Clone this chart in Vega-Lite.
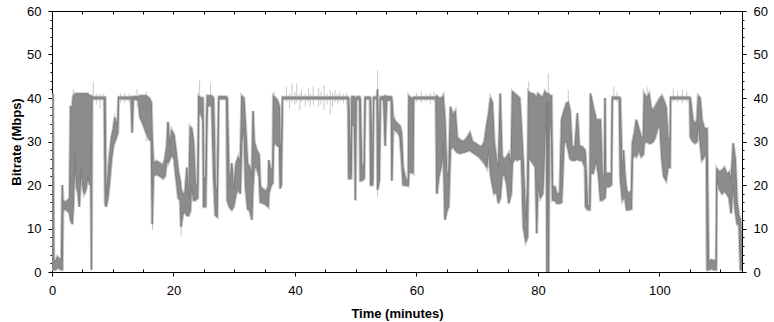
{
  "$schema": "https://vega.github.io/schema/vega-lite/v6.json",
  "width": 690,
  "height": 261,
  "autosize": {"type": "none"},
  "padding": {"left": 52, "top": 11, "right": 32, "bottom": 50},
  "background": "white",
  "config": {
    "view": {"stroke": null},
    "axis": {
      "labelFont": "Liberation Sans",
      "titleFont": "Liberation Sans",
      "labelFontSize": 13,
      "titleFontSize": 13,
      "titleFontWeight": "bold",
      "domainColor": "black",
      "tickColor": "black",
      "labelColor": "black",
      "titleColor": "black",
      "grid": false,
      "labelFlush": false,
      "labelOverlap": false
    }
  },
  "datasets": {
    "main": [
      {"t":0,"lo":1,"hi":3},
      {"t":0.15,"lo":1,"hi":41},
      {"t":0.3,"lo":0.5,"hi":3},
      {"t":0.6,"lo":0.5,"hi":2.5},
      {"t":0.9,"lo":1,"hi":3.5},
      {"t":1.2,"lo":0.8,"hi":3},
      {"t":1.55,"lo":0.5,"hi":3},
      {"t":1.7,"lo":0.5,"hi":20},
      {"t":1.8,"lo":14,"hi":16.5},
      {"t":2.2,"lo":14.5,"hi":16},
      {"t":2.6,"lo":14,"hi":16.5},
      {"t":2.9,"lo":13.5,"hi":17},
      {"t":3.05,"lo":12,"hi":38},
      {"t":3.35,"lo":11,"hi":38},
      {"t":3.5,"lo":15,"hi":40.5},
      {"t":3.8,"lo":27,"hi":41},
      {"t":4.0,"lo":20,"hi":41},
      {"t":4.3,"lo":18,"hi":41},
      {"t":4.5,"lo":15,"hi":41},
      {"t":4.8,"lo":24,"hi":41},
      {"t":5.0,"lo":20,"hi":41},
      {"t":5.3,"lo":18,"hi":41},
      {"t":5.6,"lo":19,"hi":41},
      {"t":5.9,"lo":22,"hi":41},
      {"t":6.2,"lo":20,"hi":40.5},
      {"t":6.35,"lo":30,"hi":40.5},
      {"t":6.5,"lo":0.5,"hi":40.5},
      {"t":6.6,"lo":39.8,"hi":40.2},
      {"t":8.6,"lo":39.8,"hi":40.2},
      {"t":8.75,"lo":15.8,"hi":40.2},
      {"t":8.9,"lo":15,"hi":17.5},
      {"t":9.2,"lo":17,"hi":22},
      {"t":9.5,"lo":21,"hi":27},
      {"t":9.8,"lo":26,"hi":31},
      {"t":10.1,"lo":29,"hi":33},
      {"t":10.35,"lo":30,"hi":35.5},
      {"t":10.6,"lo":31,"hi":34},
      {"t":10.85,"lo":32,"hi":35},
      {"t":10.95,"lo":39.8,"hi":40.2},
      {"t":13.0,"lo":39.8,"hi":40.2},
      {"t":13.2,"lo":32,"hi":40.3},
      {"t":13.4,"lo":39.8,"hi":40.3},
      {"t":14.2,"lo":39.5,"hi":40.3},
      {"t":14.5,"lo":35.5,"hi":40.5},
      {"t":15.0,"lo":34,"hi":40.5},
      {"t":15.5,"lo":32,"hi":40.5},
      {"t":16.0,"lo":30.5,"hi":40},
      {"t":16.35,"lo":30,"hi":39},
      {"t":16.5,"lo":11,"hi":31},
      {"t":16.7,"lo":22,"hi":25},
      {"t":17.2,"lo":22.5,"hi":25.5},
      {"t":17.8,"lo":22,"hi":25},
      {"t":18.3,"lo":21.5,"hi":24.5},
      {"t":18.6,"lo":22,"hi":26},
      {"t":18.9,"lo":25.7,"hi":29},
      {"t":19.1,"lo":25,"hi":34.5},
      {"t":19.4,"lo":26,"hi":29},
      {"t":19.7,"lo":27,"hi":32.6},
      {"t":20.1,"lo":26,"hi":31.5},
      {"t":20.4,"lo":22,"hi":28},
      {"t":20.8,"lo":17,"hi":23},
      {"t":21.1,"lo":16.5,"hi":21},
      {"t":21.25,"lo":10.4,"hi":19},
      {"t":21.5,"lo":13,"hi":18},
      {"t":21.9,"lo":14,"hi":18},
      {"t":22.2,"lo":13,"hi":24},
      {"t":22.5,"lo":13,"hi":17},
      {"t":22.75,"lo":14,"hi":33.4},
      {"t":23.0,"lo":20,"hi":33},
      {"t":23.3,"lo":16.5,"hi":30},
      {"t":23.6,"lo":16.5,"hi":20.4},
      {"t":24.0,"lo":17,"hi":20},
      {"t":24.15,"lo":36,"hi":40.5},
      {"t":24.5,"lo":36.5,"hi":40},
      {"t":24.85,"lo":35,"hi":40},
      {"t":24.95,"lo":15,"hi":22},
      {"t":25.3,"lo":15,"hi":21},
      {"t":25.55,"lo":38,"hi":40.5},
      {"t":26.3,"lo":38.5,"hi":40.5},
      {"t":26.6,"lo":22,"hi":40},
      {"t":26.9,"lo":13,"hi":20},
      {"t":27.2,"lo":12.7,"hi":18},
      {"t":27.45,"lo":39.8,"hi":40.3},
      {"t":28.75,"lo":39.8,"hi":40.3},
      {"t":28.85,"lo":16.5,"hi":40},
      {"t":29.2,"lo":15,"hi":19.6},
      {"t":29.6,"lo":14.3,"hi":25},
      {"t":29.9,"lo":15,"hi":19},
      {"t":30.3,"lo":18,"hi":25},
      {"t":30.7,"lo":19,"hi":26.5},
      {"t":31.0,"lo":18,"hi":25},
      {"t":31.25,"lo":30,"hi":40.5},
      {"t":31.6,"lo":33,"hi":40},
      {"t":31.85,"lo":20,"hi":34},
      {"t":32.2,"lo":14.5,"hi":25},
      {"t":32.6,"lo":14,"hi":24},
      {"t":32.9,"lo":12,"hi":22},
      {"t":33.1,"lo":20,"hi":37},
      {"t":33.3,"lo":24,"hi":30},
      {"t":33.7,"lo":24,"hi":28},
      {"t":34.1,"lo":22,"hi":27},
      {"t":34.3,"lo":16,"hi":19.6},
      {"t":34.8,"lo":15.8,"hi":19},
      {"t":35.2,"lo":15.5,"hi":18.5},
      {"t":35.6,"lo":15,"hi":19.6},
      {"t":35.7,"lo":18,"hi":25.7},
      {"t":36.0,"lo":19.6,"hi":23.4},
      {"t":36.35,"lo":20.5,"hi":24},
      {"t":36.45,"lo":28.8,"hi":40.5},
      {"t":36.8,"lo":30,"hi":40},
      {"t":37.1,"lo":29,"hi":39.5},
      {"t":37.45,"lo":28.8,"hi":38},
      {"t":37.55,"lo":19.2,"hi":30},
      {"t":37.75,"lo":20,"hi":26},
      {"t":37.95,"lo":39.8,"hi":40.2},
      {"t":48.75,"lo":39.8,"hi":40.2},
      {"t":48.85,"lo":21.5,"hi":40},
      {"t":49.25,"lo":21.5,"hi":22.7},
      {"t":49.35,"lo":33.4,"hi":40.3},
      {"t":49.8,"lo":34,"hi":40.3},
      {"t":49.95,"lo":16.5,"hi":40},
      {"t":50.1,"lo":39.8,"hi":40.2},
      {"t":50.65,"lo":39.5,"hi":40.3},
      {"t":50.75,"lo":21,"hi":40},
      {"t":51.0,"lo":21,"hi":24},
      {"t":51.4,"lo":21.5,"hi":25},
      {"t":51.55,"lo":39.8,"hi":40.2},
      {"t":52.35,"lo":39.8,"hi":40.2},
      {"t":52.45,"lo":20,"hi":40},
      {"t":52.8,"lo":20,"hi":21},
      {"t":52.95,"lo":39.8,"hi":40.2},
      {"t":53.5,"lo":39.8,"hi":40.2},
      {"t":53.6,"lo":18.9,"hi":42},
      {"t":53.9,"lo":21,"hi":24},
      {"t":54.05,"lo":39.8,"hi":40.2},
      {"t":54.6,"lo":39.5,"hi":40.3},
      {"t":54.85,"lo":29,"hi":40.5},
      {"t":55.1,"lo":39.5,"hi":40.3},
      {"t":55.85,"lo":39.5,"hi":40.3},
      {"t":55.95,"lo":21,"hi":40},
      {"t":56.15,"lo":33,"hi":35.5},
      {"t":56.6,"lo":32.5,"hi":34.5},
      {"t":57.0,"lo":32,"hi":34},
      {"t":57.3,"lo":31,"hi":33.5},
      {"t":57.55,"lo":26,"hi":32},
      {"t":57.8,"lo":20,"hi":24},
      {"t":58.2,"lo":20,"hi":21.5},
      {"t":58.65,"lo":19.8,"hi":21},
      {"t":58.75,"lo":22.7,"hi":40.5},
      {"t":59.1,"lo":23,"hi":40},
      {"t":59.45,"lo":22.7,"hi":40},
      {"t":59.55,"lo":39.8,"hi":40.2},
      {"t":63.2,"lo":39.8,"hi":40.2},
      {"t":63.35,"lo":18,"hi":40.5},
      {"t":63.7,"lo":22,"hi":40},
      {"t":64.2,"lo":25,"hi":40},
      {"t":64.4,"lo":30,"hi":40.5},
      {"t":64.7,"lo":12,"hi":35},
      {"t":65.0,"lo":14,"hi":23},
      {"t":65.3,"lo":15,"hi":22},
      {"t":65.6,"lo":28,"hi":38},
      {"t":66.0,"lo":29,"hi":36},
      {"t":66.4,"lo":28,"hi":37},
      {"t":66.7,"lo":27.5,"hi":31},
      {"t":67.2,"lo":27.3,"hi":30.3},
      {"t":67.8,"lo":27.5,"hi":30},
      {"t":68.4,"lo":27.8,"hi":31},
      {"t":68.8,"lo":28,"hi":32},
      {"t":69.2,"lo":27.5,"hi":30},
      {"t":69.8,"lo":27,"hi":29.5},
      {"t":70.3,"lo":26.5,"hi":29},
      {"t":70.8,"lo":25.7,"hi":28.8},
      {"t":71.2,"lo":25,"hi":30},
      {"t":71.6,"lo":24,"hi":34},
      {"t":71.9,"lo":28,"hi":36.5},
      {"t":72.2,"lo":22.5,"hi":40},
      {"t":72.5,"lo":20,"hi":39},
      {"t":72.8,"lo":18,"hi":30},
      {"t":73.2,"lo":18.5,"hi":25.7},
      {"t":73.5,"lo":15.8,"hi":24},
      {"t":73.8,"lo":17,"hi":41},
      {"t":74.1,"lo":22,"hi":26.5},
      {"t":74.5,"lo":22.5,"hi":26},
      {"t":74.9,"lo":20,"hi":26.5},
      {"t":75.2,"lo":15.8,"hi":27.3},
      {"t":75.6,"lo":18,"hi":25},
      {"t":75.8,"lo":25,"hi":41.5},
      {"t":76.2,"lo":26,"hi":41},
      {"t":76.6,"lo":25.7,"hi":40.5},
      {"t":77.0,"lo":26,"hi":40},
      {"t":77.3,"lo":25.7,"hi":33},
      {"t":77.6,"lo":10.4,"hi":25},
      {"t":78.0,"lo":7,"hi":12},
      {"t":78.3,"lo":8,"hi":20},
      {"t":78.45,"lo":26,"hi":41.5},
      {"t":78.8,"lo":25.7,"hi":41},
      {"t":79.2,"lo":25,"hi":41},
      {"t":79.6,"lo":24,"hi":40.5},
      {"t":79.8,"lo":8.9,"hi":40},
      {"t":80.0,"lo":20,"hi":41},
      {"t":80.4,"lo":17,"hi":40.5},
      {"t":80.8,"lo":18,"hi":40},
      {"t":81.15,"lo":30,"hi":41.5},
      {"t":81.4,"lo":39,"hi":41},
      {"t":81.5,"lo":0,"hi":41},
      {"t":81.6,"lo":39,"hi":41},
      {"t":81.75,"lo":0,"hi":41},
      {"t":81.9,"lo":39,"hi":40.5},
      {"t":82.25,"lo":30,"hi":40.5},
      {"t":82.4,"lo":16.5,"hi":19.6},
      {"t":82.8,"lo":16.5,"hi":19.6},
      {"t":83.1,"lo":15.8,"hi":18},
      {"t":83.6,"lo":15.8,"hi":18},
      {"t":83.9,"lo":16,"hi":35},
      {"t":84.3,"lo":29.6,"hi":37},
      {"t":84.7,"lo":30,"hi":38.8},
      {"t":85.0,"lo":28,"hi":39},
      {"t":85.3,"lo":26,"hi":37},
      {"t":85.6,"lo":25.7,"hi":28.8},
      {"t":86.1,"lo":25.7,"hi":28.8},
      {"t":86.5,"lo":26,"hi":36.5},
      {"t":86.8,"lo":25.7,"hi":29},
      {"t":87.3,"lo":25.7,"hi":28.8},
      {"t":87.75,"lo":24,"hi":28},
      {"t":87.85,"lo":15,"hi":26},
      {"t":88.2,"lo":14.3,"hi":15},
      {"t":88.55,"lo":14.3,"hi":15.5},
      {"t":88.65,"lo":22.7,"hi":41},
      {"t":89.1,"lo":22.7,"hi":38},
      {"t":89.6,"lo":25.7,"hi":35},
      {"t":90.0,"lo":22,"hi":35},
      {"t":90.3,"lo":16.5,"hi":35},
      {"t":90.6,"lo":16.5,"hi":22.7},
      {"t":90.95,"lo":17,"hi":22},
      {"t":91.05,"lo":17,"hi":40},
      {"t":91.15,"lo":19.6,"hi":22.7},
      {"t":91.7,"lo":19.6,"hi":22.7},
      {"t":92.1,"lo":20,"hi":22.5},
      {"t":92.25,"lo":39.8,"hi":40.2},
      {"t":93.4,"lo":39.8,"hi":40.2},
      {"t":93.55,"lo":22,"hi":40},
      {"t":93.9,"lo":16.5,"hi":22},
      {"t":94.1,"lo":17,"hi":28},
      {"t":94.35,"lo":17,"hi":22},
      {"t":94.6,"lo":14.3,"hi":18.8},
      {"t":95.0,"lo":14.3,"hi":18},
      {"t":95.4,"lo":14.5,"hi":18.8},
      {"t":95.55,"lo":26,"hi":29.6},
      {"t":95.9,"lo":27,"hi":32},
      {"t":96.2,"lo":26.5,"hi":35},
      {"t":96.6,"lo":28,"hi":33},
      {"t":97.0,"lo":26.5,"hi":31},
      {"t":97.35,"lo":27,"hi":31},
      {"t":97.5,"lo":29.6,"hi":41},
      {"t":97.9,"lo":30,"hi":40},
      {"t":98.3,"lo":29.6,"hi":41},
      {"t":98.6,"lo":29.6,"hi":38},
      {"t":99.0,"lo":30,"hi":37},
      {"t":99.3,"lo":31,"hi":38},
      {"t":99.7,"lo":33,"hi":39},
      {"t":100.1,"lo":33.4,"hi":40},
      {"t":100.4,"lo":26,"hi":40.5},
      {"t":100.7,"lo":22,"hi":39.5},
      {"t":101.1,"lo":21,"hi":38},
      {"t":101.4,"lo":24,"hi":31},
      {"t":101.75,"lo":24,"hi":30.5},
      {"t":101.85,"lo":39.8,"hi":40.2},
      {"t":105.0,"lo":39.8,"hi":40.2},
      {"t":105.1,"lo":31,"hi":40},
      {"t":105.5,"lo":30,"hi":35},
      {"t":105.9,"lo":29.6,"hi":34},
      {"t":106.2,"lo":30,"hi":35},
      {"t":106.4,"lo":34,"hi":40.5},
      {"t":106.7,"lo":30,"hi":40},
      {"t":107.0,"lo":25.7,"hi":35},
      {"t":107.4,"lo":26.5,"hi":33},
      {"t":107.75,"lo":27,"hi":33},
      {"t":107.85,"lo":0.5,"hi":33},
      {"t":108.1,"lo":0.5,"hi":2.5},
      {"t":108.6,"lo":0.8,"hi":2.8},
      {"t":109.0,"lo":0.5,"hi":2.5},
      {"t":109.35,"lo":0.5,"hi":2.8},
      {"t":109.45,"lo":21,"hi":23.8},
      {"t":109.9,"lo":19,"hi":23},
      {"t":110.3,"lo":18,"hi":23.4},
      {"t":110.7,"lo":18.5,"hi":24},
      {"t":111.1,"lo":18,"hi":22.5},
      {"t":111.5,"lo":17,"hi":23},
      {"t":111.8,"lo":13.5,"hi":21},
      {"t":112.15,"lo":20,"hi":29.6},
      {"t":112.5,"lo":14,"hi":26},
      {"t":112.8,"lo":11,"hi":16},
      {"t":113.1,"lo":11,"hi":13},
      {"t":113.35,"lo":0.5,"hi":12},
      {"t":113.6,"lo":0.5,"hi":5}
    ],
    "spikes": [
      {"t":3.5,"a":40,"b":42},
      {"t":6.8,"a":39.5,"b":43.8},
      {"t":7.3,"a":38.5,"b":41},
      {"t":7.9,"a":37.6,"b":41},
      {"t":8.45,"a":37.5,"b":41},
      {"t":10.3,"a":35,"b":36.5},
      {"t":11.3,"a":38.8,"b":41},
      {"t":12.0,"a":38.8,"b":41.2},
      {"t":12.7,"a":39,"b":41},
      {"t":14.0,"a":38,"b":42},
      {"t":15.5,"a":30,"b":41.5},
      {"t":16.55,"a":9.7,"b":12},
      {"t":21.25,"a":8.1,"b":11},
      {"t":24.3,"a":40,"b":44},
      {"t":26.1,"a":40,"b":43.4},
      {"t":36.6,"a":40,"b":41.5},
      {"t":38.6,"a":39,"b":42.6},
      {"t":39.1,"a":37.6,"b":41},
      {"t":39.5,"a":39,"b":43.4},
      {"t":40.0,"a":38.5,"b":41.5},
      {"t":40.3,"a":39,"b":43.4},
      {"t":40.8,"a":37.2,"b":41},
      {"t":41.1,"a":39,"b":41.8},
      {"t":41.7,"a":38,"b":41},
      {"t":42.2,"a":39,"b":42.2},
      {"t":42.5,"a":38,"b":41},
      {"t":43.0,"a":38.5,"b":42.6},
      {"t":43.9,"a":38,"b":42.2},
      {"t":44.3,"a":38.5,"b":41.5},
      {"t":44.8,"a":37.2,"b":43},
      {"t":45.3,"a":38.5,"b":41},
      {"t":45.8,"a":36.1,"b":41.8},
      {"t":46.2,"a":38,"b":41.3},
      {"t":46.6,"a":39,"b":41.8},
      {"t":47.0,"a":38.5,"b":41},
      {"t":47.4,"a":39,"b":41.5},
      {"t":48.0,"a":38.8,"b":41},
      {"t":48.5,"a":38.5,"b":41.2},
      {"t":53.6,"a":17.3,"b":46.4},
      {"t":56.5,"a":31.5,"b":36},
      {"t":60.0,"a":39,"b":41.2},
      {"t":60.8,"a":38.8,"b":41.5},
      {"t":61.6,"a":39,"b":41},
      {"t":62.3,"a":38.5,"b":41.2},
      {"t":62.9,"a":39,"b":41.5},
      {"t":78.5,"a":40,"b":43.8},
      {"t":81.7,"a":40,"b":45.7},
      {"t":85.0,"a":39,"b":41.8},
      {"t":92.5,"a":39,"b":42.6},
      {"t":93.0,"a":39,"b":41.5},
      {"t":98.0,"a":40,"b":42.5},
      {"t":102.3,"a":39,"b":42.2},
      {"t":103.0,"a":39,"b":41.5},
      {"t":103.8,"a":38.8,"b":42},
      {"t":104.5,"a":39,"b":41.5}
    ]
  },
  "layer": [
    {
      "layer": [
        {
          "data": {"name": "spikes"},
          "mark": {"type": "rule", "color": "#c8c8c8", "strokeWidth": 1, "clip": true},
          "encoding": {
            "x": {"field": "t", "type": "quantitative"},
            "y": {"field": "a", "type": "quantitative"},
            "y2": {"field": "b"}
          }
        },
        {
          "data": {"name": "main"},
          "mark": {"type": "area", "fill": "#c8c8c8", "stroke": "#c8c8c8", "strokeWidth": 3, "clip": true},
          "encoding": {
            "x": {"field": "t", "type": "quantitative"},
            "y": {"field": "lo", "type": "quantitative"},
            "y2": {"field": "hi"}
          }
        },
        {
          "data": {"name": "main"},
          "mark": {"type": "area", "fill": "#7f7f7f", "fillOpacity": 0.82, "stroke": "#7f7f7f", "strokeWidth": 1, "clip": true},
          "encoding": {
            "x": {"field": "t", "type": "quantitative"},
            "y": {"field": "lo", "type": "quantitative"},
            "y2": {"field": "hi"}
          }
        }
      ],
      "encoding": {
        "x": {
          "field": "t", "type": "quantitative",
          "scale": {"domain": [0, 113.6], "nice": false, "zero": false},
          "axis": {
            "orient": "bottom",
            "values": [0,5,10,15,20,25,30,35,40,45,50,55,60,65,70,75,80,85,90,95,100,105,110],
            "labelExpr": "datum.value % 20 === 0 ? datum.label : ''",
            "tickSize": {"condition": {"test": "datum.value % 20 === 0", "value": 4}, "value": -3},
            "labelPadding": 8,
            "title": "Time (minutes)",
            "titlePadding": 10
          }
        },
        "y": {
          "type": "quantitative",
          "scale": {"domain": [0, 60], "nice": false},
          "axis": {
            "orient": "left",
            "values": [0,2,4,6,8,10,12,14,16,18,20,22,24,26,28,30,32,34,36,38,40,42,44,46,48,50,52,54,56,58,60],
            "labelExpr": "datum.value % 10 === 0 ? datum.label : ''",
            "tickSize": {"condition": {"test": "datum.value % 10 === 0", "value": 4}, "value": 2},
            "labelPadding": 7,
            "title": "Bitrate (Mbps)",
            "titlePadding": 3
          }
        }
      }
    },
    {
      "data": {"name": "main"},
      "mark": {"type": "point", "opacity": 0},
      "encoding": {
        "x": {
          "field": "t", "type": "quantitative",
          "scale": {"domain": [0, 113.6], "nice": false, "zero": false},
          "axis": {
            "orient": "top",
            "values": [0,5,10,15,20,25,30,35,40,45,50,55,60,65,70,75,80,85,90,95,100,105,110],
            "labels": false,
            "tickSize": -3,
            "title": null
          }
        },
        "y": {
          "field": "lo", "type": "quantitative",
          "scale": {"domain": [0, 60], "nice": false},
          "axis": {
            "orient": "right",
            "values": [0,2,4,6,8,10,12,14,16,18,20,22,24,26,28,30,32,34,36,38,40,42,44,46,48,50,52,54,56,58,60],
            "labelExpr": "datum.value % 10 === 0 ? datum.label : ''",
            "tickSize": {"condition": {"test": "datum.value % 10 === 0", "value": 4}, "value": 2},
            "labelPadding": 7,
            "title": null
          }
        }
      }
    }
  ],
  "resolve": {"scale": {"x": "independent", "y": "independent"}}
}
